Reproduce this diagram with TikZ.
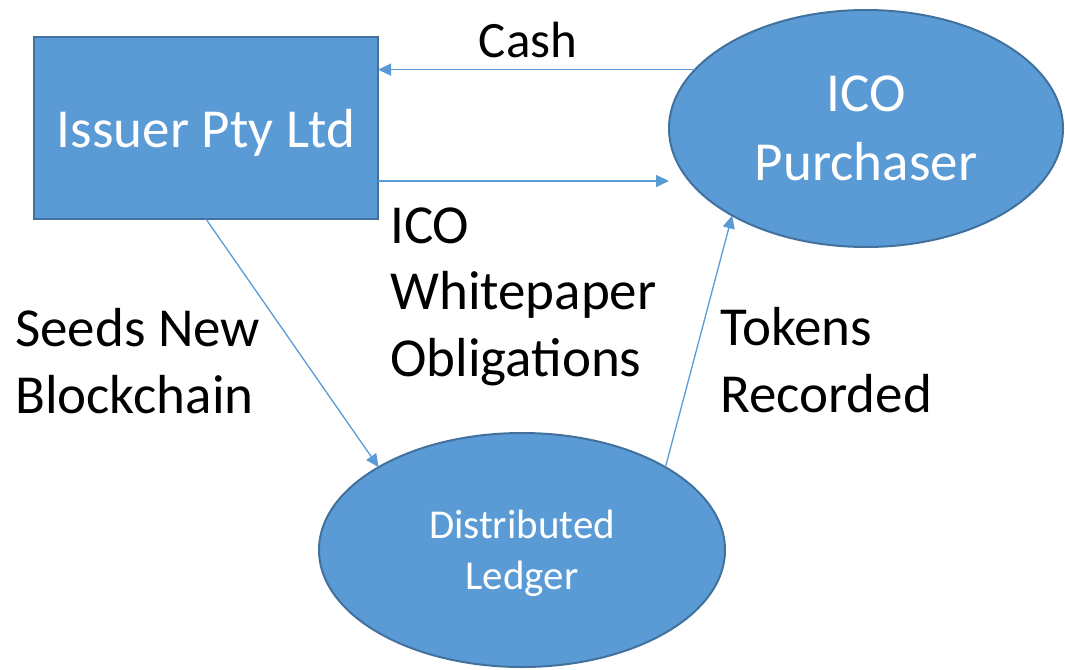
\documentclass[tikz,border=0pt]{standalone}
\usepackage{fontspec}
\setmainfont{Carlito}
\usetikzlibrary{shapes.geometric,arrows.meta}
\definecolor{shapefill}{HTML}{5B9BD5}
\definecolor{shapeline}{HTML}{41719C}
\begin{document}
\begin{tikzpicture}[x=1pt,y=-1pt,
  shapebox/.style={draw=shapeline, fill=shapefill, line width=2pt, text=white,
    inner sep=0pt, outer sep=0pt},
  bigfont/.style={font=\fontsize{55}{66.5}\selectfont},
  conn/.style={draw=shapefill, line width=1.3pt,
    -{Triangle[length=13pt,width=12pt]}},
  flowtext/.style={bigfont, align=left, inner sep=0pt, anchor=base west}]
\useasboundingbox (0,0) rectangle (1065,669);

% shapes
\node[shapebox, rectangle, minimum width=344pt, minimum height=182pt,
  bigfont, text depth=0pt] (issuer) at (206,128) {Issuer Pty Ltd};
\node[shapebox, ellipse, minimum width=394pt, minimum height=237pt,
  font=\fontsize{55}{69}\selectfont, align=center] (purchaser) at (866,128.5) {ICO\\Purchaser};
\node[shapebox, ellipse, minimum width=406pt, minimum height=234pt,
  font=\fontsize{41}{51}\selectfont, align=center, text depth=0pt] (ledger) at (522,550) {Distributed\\Ledger};

% connectors
\draw[conn] (purchaser.161.5) -- (purchaser.161.5 -| issuer.east);
\coordinate (wp) at ([yshift=38pt]issuer.south east);
\draw[conn] (wp) -- (wp -| purchaser.west);
\draw[conn] (issuer.south) -- (ledger.150);
\draw[conn] (ledger.30) -- (purchaser.213);

% labels (base anchor sits on the last line)
\node[flowtext, anchor=base, font=\fontsize{51}{61}\selectfont] (cash) at (528,58) {Cash};
\node[flowtext] (whitepaper) at (390,376) {ICO\\Whitepaper\\Obligations};
\node[flowtext] (seeds) at (15,413) {Seeds New\\Blockchain};
\node[flowtext] (tokens) at (720,412) {Tokens\\Recorded};
\end{tikzpicture}
\end{document}
